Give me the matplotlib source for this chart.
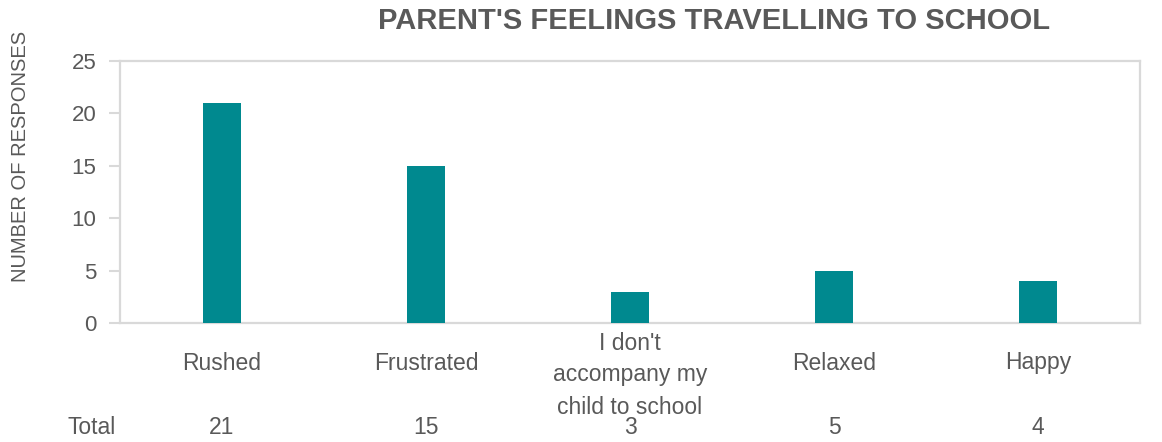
"""
plot.py
Parent's feelings travelling to school - bar chart with data table row
"""
import matplotlib
matplotlib.use('Agg')
import matplotlib.pyplot as plt
import matplotlib.transforms as mtransforms

plt.rcParams['font.family'] = ['Liberation Sans', 'DejaVu Sans']

# data
categories = ['Rushed', 'Frustrated', "I don't\naccompany my\nchild to school",
              'Relaxed', 'Happy']
responses = [21, 15, 3, 5, 4]
y_ticks = [0, 5, 10, 15, 20, 25]

TEXT_GREY = '#595959'
FRAME_GREY = '#D9D9D9'
BAR_TEAL = '#00898F'

fig = plt.figure(figsize=(11.62, 4.42), dpi=100)
ax = fig.add_axes([120 / 1162, 1 - 323 / 442, 1020 / 1162, 262 / 442])

x = list(range(len(categories)))
ax.bar(x, responses, width=0.185, color=BAR_TEAL, zorder=3)

ax.set_xlim(-0.5, len(categories) - 0.5)
ax.set_ylim(0, 25)
ax.set_yticks(y_ticks)
ax.set_yticklabels([str(t) for t in y_ticks], fontsize=16, color=TEXT_GREY)
ax.tick_params(axis='y', length=8, width=1.5, color=FRAME_GREY, pad=9)
ax.set_xticks([])

for side in ['left', 'right', 'top', 'bottom']:
    ax.spines[side].set_color(FRAME_GREY)
    ax.spines[side].set_linewidth(1.6)

ax.set_ylabel('NUMBER OF RESPONSES', fontsize=14.5, color=TEXT_GREY)
ax.yaxis.set_label_coords(-90 / 1020, 0.634)

# data table under the plot: category names and totals
trans = mtransforms.blended_transform_factory(ax.transData, fig.transFigure)
for i, name in enumerate(categories):
    # wrapped label sits a bit lower in its cell
    y_lab = 375 if '\n' in name else 363
    ax.text(i, 1 - y_lab / 442, name, transform=trans, ha='center', va='center',
            fontsize=16.5, color=TEXT_GREY, linespacing=1.5)
    ax.text(i, 1 - 428 / 442, str(responses[i]), transform=trans, ha='center',
            va='center', fontsize=16.5, color=TEXT_GREY)
fig.text(68 / 1162, 1 - 428 / 442, 'Total', ha='left', va='center',
         fontsize=16.5, color=TEXT_GREY)

fig.text(714 / 1162, 1 - 21 / 442, "PARENT'S FEELINGS TRAVELLING TO SCHOOL",
         ha='center', va='center', fontsize=21, fontweight='bold',
         color=TEXT_GREY)

fig.savefig('out.png', dpi=100)
